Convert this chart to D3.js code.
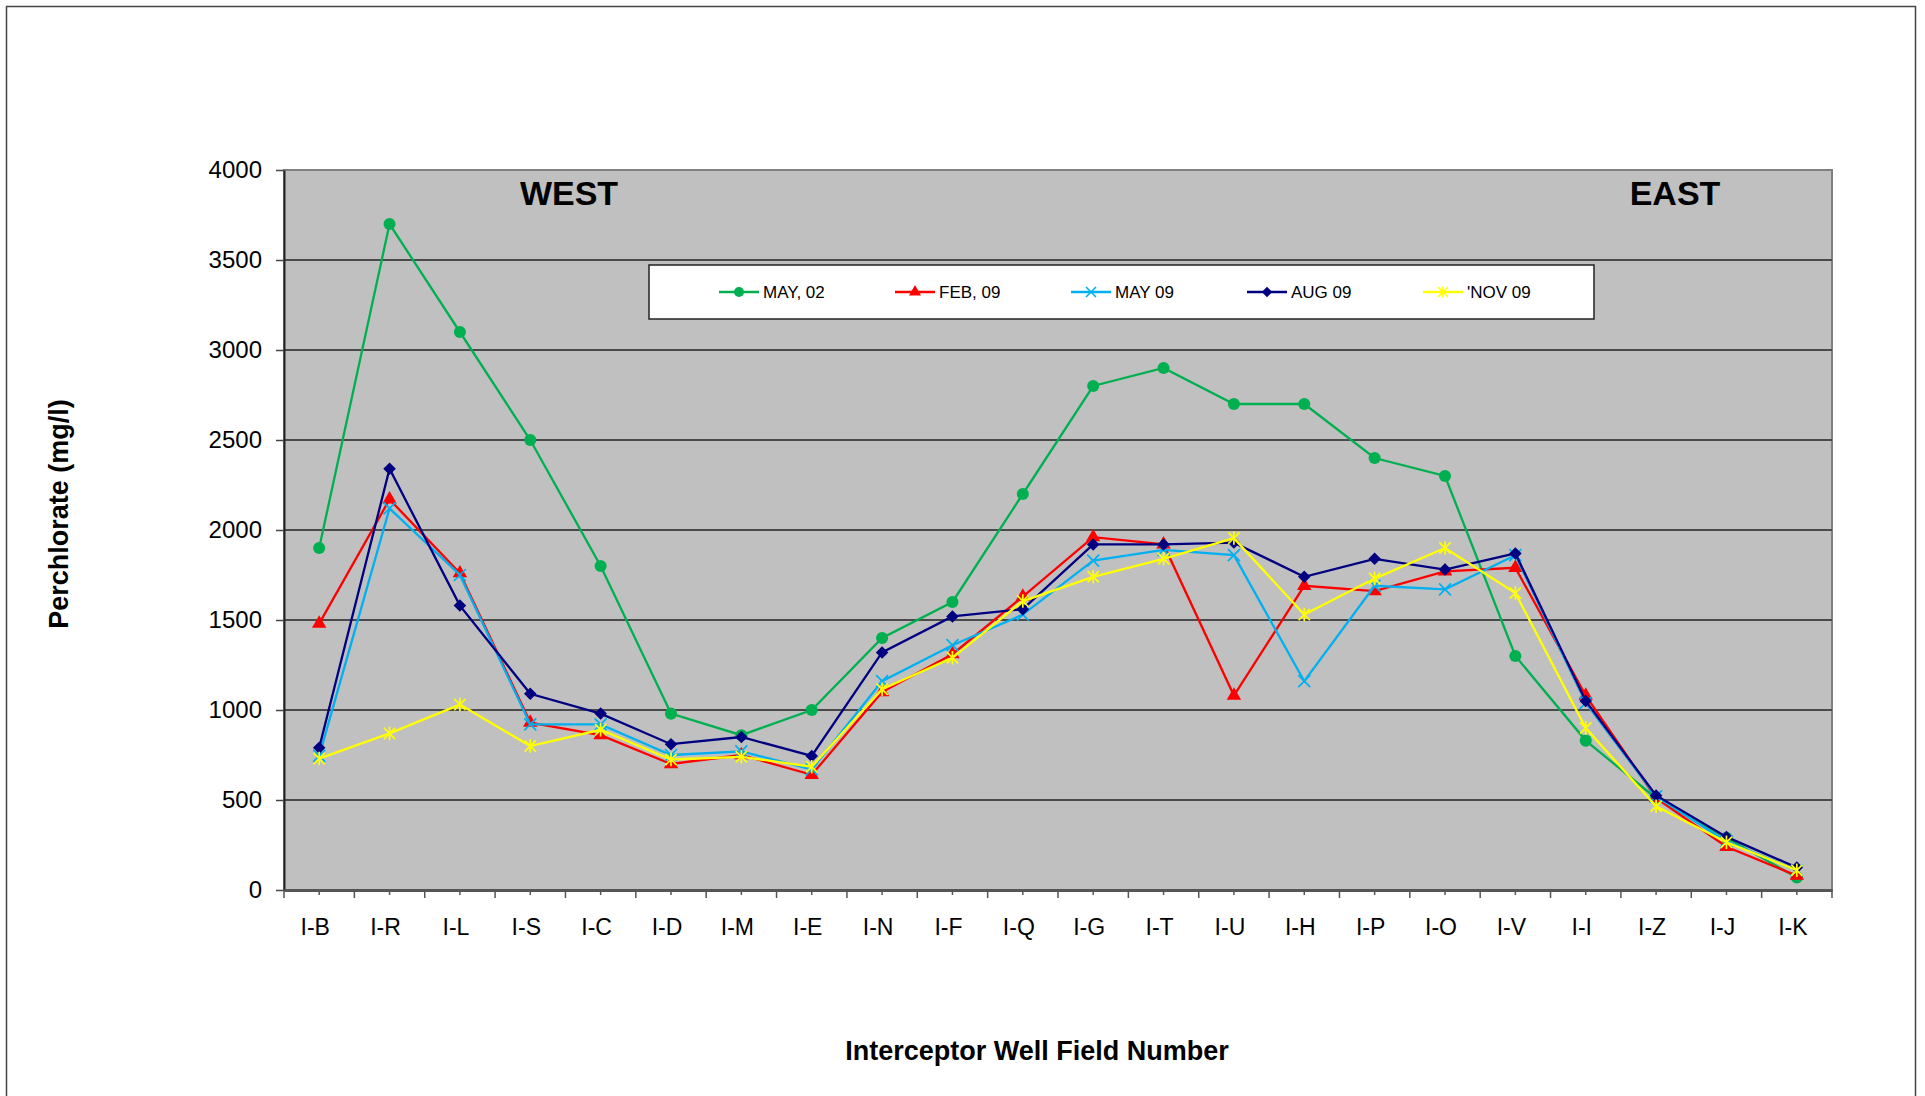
<!DOCTYPE html>
<html>
<head>
<meta charset="utf-8">
<script src="https://cdn.jsdelivr.net/npm/d3@7.9.0/dist/d3.min.js"></script>
<style>
  body { margin: 0; background: #fff; }
  svg { display: block; font-family: "Liberation Sans", Arial, sans-serif; }
</style>
</head>
<body>
<div id="chart"></div>
<script>
const wells = ["I-B","I-R","I-L","I-S","I-C","I-D","I-M","I-E","I-N","I-F","I-Q",
               "I-G","I-T","I-U","I-H","I-P","I-O","I-V","I-I","I-Z","I-J","I-K"];

const may02 = [1900,3700,3100,2500,1800,980,860,1000,1400,1600,2200,2800,2900,2700,2700,2400,2300,1300,830,510,290,70];
const feb09 = [1480,2170,1760,930,860,700,750,640,1100,1310,1630,1960,1920,1080,1690,1660,1770,1790,1080,510,240,80];
const may09 = [745,2120,1750,920,920,750,770,670,1160,1360,1530,1830,1890,1860,1160,1690,1670,1860,1040,520,270,110];
const aug09 = [790,2340,1580,1090,980,810,850,745,1320,1520,1560,1920,1920,1930,1740,1840,1780,1870,1050,525,295,125];
const nov09 = [730,870,1030,800,890,725,740,685,1115,1290,1605,1740,1840,1955,1530,1730,1900,1650,900,465,265,110];

const seriesNames = ["MAY, 02", "FEB, 09", "MAY 09", "AUG 09", "'NOV 09"];
const yTicks = [0,500,1000,1500,2000,2500,3000,3500,4000];

// excel-style star: an X with a vertical bar through it
const symbolStar = {
  draw(ctx, size) {
    const r = Math.sqrt(size) * 0.55;
    ctx.moveTo(-r, -r); ctx.lineTo(r, r);
    ctx.moveTo(-r, r); ctx.lineTo(r, -r);
    ctx.moveTo(0, -r * 1.2); ctx.lineTo(0, r * 1.2);
  }
};

const series = [
  { name: seriesNames[0], values: may02, color: "#00B050", type: d3.symbolCircle,   size: 115, fill: true },
  { name: seriesNames[1], values: feb09, color: "#FF0000", type: d3.symbolTriangle, size: 90,  fill: true },
  { name: seriesNames[2], values: may09, color: "#00B0F0", type: d3.symbolTimes,    size: 95,  fill: false },
  { name: seriesNames[3], values: aug09, color: "#000080", type: d3.symbolDiamond2, size: 100, fill: true },
  { name: seriesNames[4], values: nov09, color: "#FFFF00", type: symbolStar,        size: 105, fill: false }
];

const W = 1925, H = 1096;
const plot = { left: 284, right: 1832, top: 170, bottom: 890 };

const svg = d3.select("#chart").append("svg")
  .attr("width", W)
  .attr("height", H);

svg.append("rect")
  .attr("width", W).attr("height", H)
  .attr("fill", "#fff");

// outer chart frame (bottom edge falls off the picture)
svg.append("rect")
  .attr("x", 6.5).attr("y", 6.5)
  .attr("width", 1909).attr("height", 1100)
  .attr("fill", "none")
  .attr("stroke", "#444")
  .attr("stroke-width", 1.5);

const x = d3.scaleBand()
  .domain(wells)
  .range([plot.left, plot.right]);

const y = d3.scaleLinear()
  .domain([0, 4000])
  .range([plot.bottom, plot.top]);

const cx = d => x(d) + x.bandwidth() / 2;

// plot area
svg.append("rect")
  .attr("x", plot.left).attr("y", plot.top)
  .attr("width", plot.right - plot.left)
  .attr("height", plot.bottom - plot.top)
  .attr("fill", "#C0C0C0")
  .attr("stroke", "#808080")
  .attr("stroke-width", 2);

// gridlines
svg.append("g")
  .selectAll("line")
  .data(yTicks.filter(v => v > 0 && v < 4000))
  .join("line")
    .attr("x1", plot.left).attr("x2", plot.right)
    .attr("y1", d => y(d)).attr("y2", d => y(d))
    .attr("stroke", "#4a4a4a")
    .attr("stroke-width", 2);

// y axis
const yAxis = svg.append("g")
  .attr("transform", `translate(${plot.left},0)`)
  .call(d3.axisLeft(y).tickValues(yTicks).tickFormat(d3.format("d"))
    .tickSize(8).tickPadding(14).tickSizeOuter(0));
yAxis.select(".domain").attr("stroke", "#222").attr("stroke-width", 2);
yAxis.selectAll(".tick line").attr("stroke", "#444").attr("stroke-width", 1.5);
yAxis.selectAll(".tick text")
  .attr("font-size", 24)
  .attr("fill", "#000")
  .attr("font-family", "Liberation Sans, Arial, sans-serif");

// x axis: minor ticks at centres from the axis, major ticks at band edges
const xAxis = svg.append("g")
  .attr("transform", `translate(0,${plot.bottom})`)
  .call(d3.axisBottom(x).tickSize(5).tickPadding(24).tickSizeOuter(0));
xAxis.select(".domain").attr("stroke", "#555").attr("stroke-width", 3);
xAxis.selectAll(".tick line").attr("stroke", "#555").attr("stroke-width", 1.5);
xAxis.selectAll(".tick text")
  .attr("font-size", 23)
  .attr("dx", -4)
  .attr("fill", "#000")
  .attr("font-family", "Liberation Sans, Arial, sans-serif");

const edges = wells.map(d => x(d)).concat([plot.right]);
xAxis.selectAll("line.edge")
  .data(edges)
  .join("line")
    .attr("class", "edge")
    .attr("x1", d => d).attr("x2", d => d)
    .attr("y1", 0).attr("y2", 8)
    .attr("stroke", "#555")
    .attr("stroke-width", 1.5);

// series
const line = d3.line()
  .x((v, i) => cx(wells[i]))
  .y(v => y(v));

series.forEach(s => {
  const g = svg.append("g");
  g.append("path")
    .datum(s.values)
    .attr("d", line)
    .attr("fill", "none")
    .attr("stroke", s.color)
    .attr("stroke-width", 2.3);

  g.selectAll("path.mark")
    .data(s.values)
    .join("path")
      .attr("class", "mark")
      .attr("transform", (v, i) => `translate(${cx(wells[i])},${y(v)})`)
      .attr("d", d3.symbol().type(s.type).size(s.size))
      .attr("fill", s.fill ? s.color : "none")
      .attr("stroke", s.color)
      .attr("stroke-width", s.fill ? 0 : 1.7);
});

// WEST / EAST labels
svg.append("text")
  .attr("x", 569).attr("y", 205)
  .attr("text-anchor", "middle")
  .attr("font-size", 34).attr("font-weight", "bold")
  .text("WEST");
svg.append("text")
  .attr("x", 1675).attr("y", 205)
  .attr("text-anchor", "middle")
  .attr("font-size", 34).attr("font-weight", "bold")
  .text("EAST");

// legend
const legend = svg.append("g");
legend.append("rect")
  .attr("x", 649).attr("y", 265)
  .attr("width", 945).attr("height", 54)
  .attr("fill", "#fff")
  .attr("stroke", "#222")
  .attr("stroke-width", 1.5);

const legendX = d3.scalePoint()
  .domain(seriesNames)
  .range([719, 1423]);

series.forEach(s => {
  const lx = legendX(s.name);
  const item = legend.append("g").attr("transform", `translate(${lx},292)`);
  item.append("line")
    .attr("x1", 0).attr("x2", 40)
    .attr("stroke", s.color)
    .attr("stroke-width", 2.5);
  item.append("path")
    .attr("transform", "translate(20,0)")
    .attr("d", d3.symbol().type(s.type).size(s.size * 0.7))
    .attr("fill", s.fill ? s.color : "none")
    .attr("stroke", s.color)
    .attr("stroke-width", s.fill ? 0 : 1.6);
  item.append("text")
    .attr("x", 44).attr("y", 6)
    .attr("font-size", 17)
    .text(s.name);
});

// axis titles
svg.append("text")
  .attr("x", 1037).attr("y", 1060)
  .attr("text-anchor", "middle")
  .attr("font-size", 27).attr("font-weight", "bold")
  .text("Interceptor Well Field Number");

svg.append("text")
  .attr("transform", "translate(68,514) rotate(-90)")
  .attr("text-anchor", "middle")
  .attr("font-size", 27).attr("font-weight", "bold")
  .text("Perchlorate (mg/l)");
</script>
</body>
</html>
